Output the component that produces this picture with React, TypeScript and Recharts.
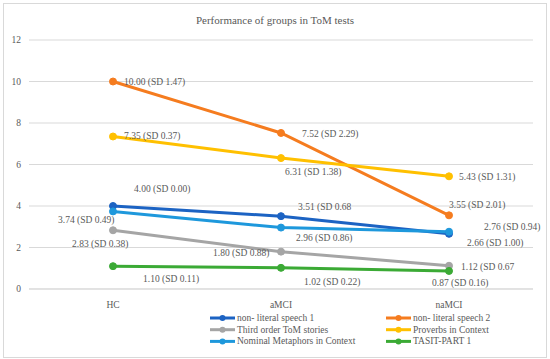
import React from 'react';
import { LineChart, Line, XAxis, YAxis, CartesianGrid, Legend, LabelList } from 'recharts';

const categories = ['HC', 'aMCI', 'naMCI'];
const seriesNames = [
  'non- literal speech 1',
  'non- literal speech 2',
  'Third order ToM stories',
  'Proverbs in Context',
  'Nominal Metaphors in Context',
  'TASIT-PART 1',
];
const nonLiteral1 = [4.0, 3.51, 2.66];
const nonLiteral2 = [10.0, 7.52, 3.55];
const thirdOrder = [2.83, 1.8, 1.12];
const proverbs = [7.35, 6.31, 5.43];
const metaphors = [3.74, 2.96, 2.76];
const tasit = [1.1, 1.02, 0.87];

const nonLiteral1Labels = ['4.00 (SD 0.00)', '3.51 (SD 0.68', '2.66 (SD 1.00)'];
const nonLiteral2Labels = ['10.00 (SD 1.47)', '7.52 (SD 2.29)', '3.55 (SD 2.01)'];
const thirdOrderLabels = ['2.83 (SD 0.38)', '1.80 (SD 0.88)', '1.12 (SD 0.67'];
const proverbsLabels = ['7.35 (SD 0.37)', '6.31 (SD 1.38)', '5.43 (SD 1.31)'];
const metaphorsLabels = ['3.74 (SD 0.49)', '2.96 (SD 0.86)', '2.76 (SD 0.94)'];
const tasitLabels = ['1.10 (SD 0.11)', '1.02 (SD 0.22)', '0.87 (SD 0.16)'];

const yTicks = [0, 2, 4, 6, 8, 10, 12];

const seriesValues = [nonLiteral1, nonLiteral2, thirdOrder, proverbs, metaphors, tasit];
const seriesLabels = [nonLiteral1Labels, nonLiteral2Labels, thirdOrderLabels, proverbsLabels, metaphorsLabels, tasitLabels];

// styling
const colors = ['#1C63C3', '#F57C1F', '#A5A5A5', '#FFC000', '#1E98DC', '#3BAA35'];
// label offsets relative to each point [dx, dy]
const labelOffsets: number[][][] = [
  [[21, -17], [17, -9], [18, 9]],
  [[11, 0], [21, 1], [0, -10]],
  [[-41, 14], [-68, 1], [12, 1]],
  [[11, 0], [4, 14], [10, 1]],
  [[-55, 9], [15, 10], [35, -5]],
  [[30, 13], [23, 14], [-17, 12]],
];

const FONT = '"Liberation Serif", "Times New Roman", serif';
const TEXT = '#595959';

const data = categories.map((c, i) => {
  const row: Record<string, string | number> = { cat: c };
  seriesValues.forEach((vals, s) => {
    row['s' + s] = vals[i];
    row['l' + s] = seriesLabels[s][i];
  });
  return row;
});

const makeLabel = (s: number) => (props: any) => {
  const { x, y, index, value } = props;
  const off = labelOffsets[s][index];
  return (
    <text
      x={x + off[0]}
      y={y + off[1]}
      fontSize={9.5}
      fontFamily={FONT}
      fill={TEXT}
      textAnchor="start"
      dominantBaseline="central"
    >
      {value}
    </text>
  );
};

const LegendContent = () => (
  <svg width={550} height={44} style={{ display: 'block' }}>
    {seriesNames.map((name, i) => {
      const col = i % 2;
      const row = Math.floor(i / 2);
      const x = col === 0 ? 210 : 386;
      const y = 7 + row * 11.7;
      return (
        <g key={name}>
          <line x1={x} x2={x + 25} y1={y} y2={y} stroke={colors[i]} strokeWidth={3} />
          <circle cx={x + 12.5} cy={y} r={3} fill={colors[i]} />
          <text x={x + 27} y={y} fontSize={9.5} fontFamily={FONT} fill={TEXT} dominantBaseline="central">
            {name}
          </text>
        </g>
      );
    })}
  </svg>
);

export default function App() {
  return (
    <div style={{ position: 'absolute', left: 0, top: 0, width: 550, height: 359, background: '#fff' }}>
      <div
        style={{
          position: 'absolute',
          left: 3,
          top: 3,
          width: 544,
          height: 355,
          border: '1px solid #D9D9D9',
          boxSizing: 'border-box',
        }}
      />
      <div style={{ position: 'absolute', left: 0, top: 0 }}>
        <LineChart width={550} height={359} data={data} margin={{ top: 40, right: 17, bottom: 50, left: 0 }}>
          <text x={275} y={20} textAnchor="middle" dominantBaseline="central" fontSize={11} fontFamily={FONT} fill={TEXT}>
            Performance of groups in ToM tests
          </text>
          <CartesianGrid vertical={false} stroke="#D9D9D9" strokeWidth={1} />
          <XAxis
            dataKey="cat"
            height={20}
            padding={{ left: 84, right: 84 }}
            axisLine={{ stroke: '#D9D9D9' }}
            tickLine={false}
            tickMargin={6}
            tick={{ fontSize: 9.5, fontFamily: FONT, fill: TEXT }}
          />
          <YAxis
            width={29}
            domain={[0, 12]}
            ticks={yTicks}
            axisLine={false}
            tickLine={false}
            tick={{ fontSize: 9.5, fontFamily: FONT, fill: TEXT }}
          />
          <Legend
            layout="horizontal"
            verticalAlign="middle"
            align="center"
            wrapperStyle={{ top: 311, left: 0, width: 550, height: 44 }}
            content={<LegendContent />}
          />
          {seriesValues.map((_, s) => (
            <Line
              key={s}
              dataKey={'s' + s}
              name={seriesNames[s]}
              stroke={colors[s]}
              strokeWidth={3}
              dot={{ r: 3.5, fill: colors[s], stroke: colors[s], strokeWidth: 1 }}
              activeDot={false}
              isAnimationActive={false}
            >
              <LabelList dataKey={'l' + s} content={makeLabel(s)} />
            </Line>
          ))}
        </LineChart>
      </div>
    </div>
  );
}
